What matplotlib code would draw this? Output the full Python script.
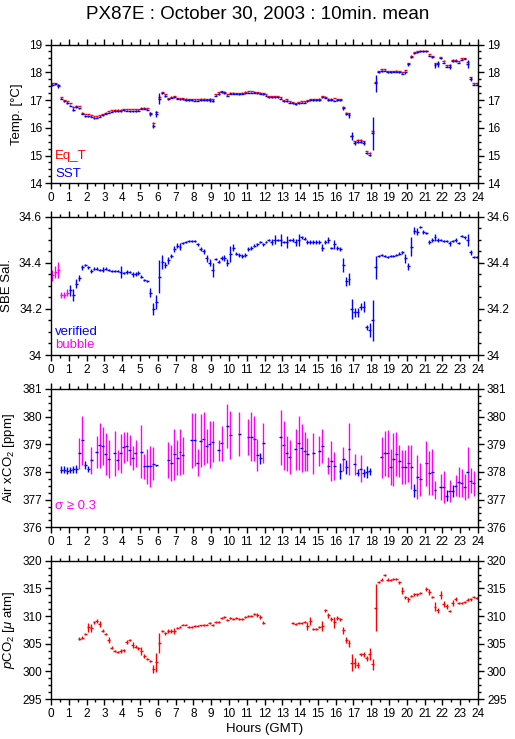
import numpy as np
import matplotlib
matplotlib.use("Agg")
import matplotlib.pyplot as plt
from matplotlib.ticker import MultipleLocator, FuncFormatter

plt.rcParams['font.family'] = ['Liberation Sans', 'DejaVu Sans']
plt.rcParams['mathtext.fontset'] = 'custom'
plt.rcParams['mathtext.rm'] = 'Liberation Sans'
plt.rcParams['mathtext.it'] = 'Liberation Sans:italic'

nan = np.nan
title = "PX87E : October 30, 2003 : 10min. mean"
hours = (np.arange(144) + 0.5) / 6.0   # 10-min bin centres
hour_ticks = list(range(0, 25))

# ---------------- Temperature ----------------
sst = [
    17.55, 17.58, 17.5, 17.05, 16.95, 16.9,
    16.8, 16.65, 16.75, 16.7, 16.5, 16.42,
    16.42, 16.4, 16.35, 16.37, 16.4, 16.45,
    16.5, 16.55, 16.58, 16.6, 16.6, 16.6,
    16.63, 16.62, 16.6, 16.6, 16.6, 16.62,
    16.68, 16.68, 16.65, 16.5, 16.08, 16.5,
    17.05, 17.25, 17.15, 17.02, 17.08, 17.1,
    17.05, 17.02, 17.02, 17.0, 17.0, 17.0,
    16.97, 16.97, 17.0, 17.0, 17.0, 17.0,
    16.98, 17.15, 17.22, 17.28, 17.25, 17.15,
    17.22, 17.22, 17.22, 17.2, 17.22, 17.25,
    17.27, 17.27, 17.27, 17.25, 17.22, 17.2,
    17.15, 17.1, 17.1, 17.1, 17.1, 17.05,
    16.95, 16.97, 16.9, 16.88, 16.85, 16.88,
    16.9, 16.9, 16.95, 17.0, 17.0, 17.0,
    17.0, 17.1, 17.08, 17.0, 17.0, 16.97,
    17.0, 17.0, 16.7, 16.5, 16.45, 15.7,
    15.45, 15.5, 15.5, 15.45, 15.1, 15.02,
    15.8, 17.6, 18.0, 18.05, 18.05, 18.0,
    18.0, 18.02, 18.02, 18.0, 17.95, 18.0,
    18.28, 18.55, 18.68, 18.72, 18.75, 18.75,
    18.75, 18.6, 18.55, 18.25, 18.3, 18.5,
    18.35, 18.2, 18.2, 18.4, 18.4, 18.35,
    18.45, 18.48, 18.3, 17.75, 17.55, 17.55,
]
sst_sd = [
    .03, .03, .08, .03, .03, .03,
    .03, .06, .03, .03, .02, .02,
    .02, .02, .03, .02, .02, .02,
    .02, .02, .02, .02, .02, .02,
    .02, .02, .02, .02, .03, .02,
    .02, .02, .02, .06, .07, .12,
    .2, .04, .03, .03, .02, .02,
    .02, .02, .02, .02, .02, .02,
    .02, .02, .02, .02, .02, .06,
    .06, .02, .03, .03, .03, .02,
    .02, .02, .02, .02, .02, .02,
    .02, .02, .02, .02, .02, .02,
    .02, .02, .02, .02, .02, .02,
    .02, .03, .02, .02, .02, .02,
    .02, .02, .02, .02, .02, .02,
    .02, .02, .02, .02, .02, .02,
    .02, .02, .05, .05, .1, .15,
    .08, .05, .05, .08, .03, .04,
    .6, .3, .03, .03, .02, .02,
    .02, .02, .02, .02, .03, .05,
    .05, .03, .02, .02, .02, .02,
    .02, .02, .02, .1, .1, .02,
    .02, .02, .08, .03, .03, .02,
    .02, .02, .15, .07, .02, .02,
]
eq_t = [
    17.6, 17.62, 17.55, 17.1, 17.0, 16.95,
    16.88, 16.75, 16.8, 16.78, 16.55, 16.48,
    16.48, 16.45, 16.42, 16.43, 16.45, 16.5,
    16.55, 16.6, 16.63, 16.65, 16.65, 16.65,
    16.67, 16.67, 16.66, 16.66, 16.66, 16.66,
    16.73, 16.73, 16.7, 16.55, 16.18, 16.58,
    17.12, 17.28, 17.2, 17.08, 17.12, 17.13,
    17.08, 17.07, 17.06, 17.05, 17.04, 17.03,
    17.02, 17.02, 17.05, 17.05, 17.04, 17.03,
    17.03, 17.2, 17.28, 17.33, 17.3, 17.2,
    17.27, 17.27, 17.26, 17.25, 17.27, 17.3,
    17.32, 17.32, 17.3, 17.29, 17.27, 17.25,
    17.2, 17.15, 17.14, 17.14, 17.13, 17.1,
    17.0, 17.02, 16.95, 16.93, 16.9, 16.92,
    16.95, 16.95, 17.0, 17.03, 17.03, 17.04,
    17.05, 17.13, 17.12, 17.05, 17.05, 17.08,
    17.03, 17.02, 16.75, 16.55, 16.52, 15.72,
    15.52, 15.56, 15.56, 15.52, 15.17, 15.1,
    15.87, 17.65, 18.05, 18.1, 18.12, 18.05,
    18.05, 18.05, 18.06, 18.05, 18.0, 18.08,
    18.33, 18.6, 18.72, 18.76, 18.78, 18.78,
    18.78, 18.65, 18.58, 18.33, 18.35, 18.55,
    18.42, 18.25, 18.25, 18.45, 18.45, 18.4,
    18.5, 18.52, 18.38, 17.82, 17.6, 17.6,
]
eq_t_sd = [
    .01, .01, .02, .01, .01, .01,
    .01, .02, .01, .01, .01, .01,
    .01, .01, .01, .01, .01, .01,
    .01, .01, .01, .01, .01, .01,
    .01, .01, .01, .01, .01, .01,
    .01, .01, .01, .02, .03, .03,
    .03, .01, .01, .01, .01, .01,
    .01, .01, .01, .01, .01, .01,
    .01, .01, .01, .01, .01, .01,
    .01, .01, .01, .01, .01, .01,
    .01, .01, .01, .01, .01, .01,
    .01, .01, .01, .01, .01, .01,
    .01, .01, .01, .01, .01, .01,
    .01, .01, .01, .01, .01, .01,
    .01, .01, .01, .01, .01, .01,
    .01, .01, .01, .01, .01, .01,
    .01, .01, .02, .02, .02, .03,
    .02, .02, .02, .02, .01, .01,
    .03, .03, .01, .01, .01, .01,
    .01, .01, .01, .01, .01, .01,
    .02, .01, .01, .01, .01, .01,
    .01, .01, .01, .02, .02, .01,
    .01, .01, .02, .01, .01, .01,
    .01, .01, .02, .02, .01, .01,
]

# ---------------- Salinity ----------------
sal = [
    34.345, 34.36, 34.37, 34.26, 34.26, 34.27,
    34.28, 34.26, 34.31, 34.335, 34.38, 34.39,
    34.38, 34.365, 34.375, 34.375, 34.37, 34.37,
    34.375, 34.37, 34.365, 34.365, 34.365, 34.36,
    34.355, 34.36, 34.36, 34.35, 34.35, 34.355,
    34.34, 34.325, 34.32, 34.27, 34.2, 34.23,
    34.34, 34.405, 34.39, 34.41, 34.43, 34.46,
    34.475, 34.47, 34.485, 34.49, 34.495, 34.495,
    34.495, 34.48, 34.46, 34.45, 34.42, 34.4,
    34.37, 34.415, 34.405, 34.42, 34.42, 34.4,
    34.44, 34.465, 34.44, 34.435, 34.43, 34.435,
    34.46, 34.465, 34.475, 34.48, 34.49, 34.48,
    34.49, 34.5, 34.49, 34.5, 34.5, 34.5,
    34.49, 34.49, 34.5, 34.5, 34.49, 34.5,
    34.51, 34.505, 34.49, 34.49, 34.49, 34.49,
    34.49, 34.465, 34.49, 34.5, 34.465, 34.48,
    34.465, 34.46, 34.39, 34.32, 34.33, 34.2,
    34.185, 34.185, 34.21, 34.21, 34.12, 34.11,
    34.15, 34.38, 34.43, 34.435, 34.43, 34.425,
    34.43, 34.43, 34.435, 34.44, 34.445, 34.42,
    34.385, 34.47, 34.54, 34.535, 34.555, 34.535,
    34.53, 34.49, 34.5, 34.51, 34.5, 34.5,
    34.495, 34.495, 34.485, 34.495, 34.5, 34.485,
    34.515, 34.51, 34.5, 34.445, 34.425, 34.425,
]
sal_sd = [
    .025, .025, .035, .012, .012, .015,
    .025, .025, .02, .012, .01, .005,
    .005, .01, .005, .008, .005, .012,
    .005, .005, .005, .005, .005, .025,
    .005, .008, .005, .012, .008, .008,
    .008, .005, .005, .02, .025, .03,
    .07, .03, .012, .015, .01, .012,
    .01, .015, .005, .005, .005, .005,
    .005, .005, .01, .01, .015, .015,
    .03, .005, .008, .01, .012, .015,
    .035, .015, .008, .008, .01, .008,
    .01, .008, .008, .005, .005, .005,
    .005, .005, .012, .02, .005, .025,
    .005, .025, .005, .008, .015, .025,
    .008, .005, .008, .008, .008, .008,
    .008, .015, .01, .012, .005, .02,
    .008, .01, .03, .02, .025, .045,
    .02, .02, .015, .025, .01, .03,
    .09, .05, .005, .005, .005, .005,
    .005, .005, .005, .008, .008, .02,
    .015, .04, .015, .015, .005, .008,
    .005, .01, .008, .015, .008, .005,
    .005, .005, .01, .005, .008, .005,
    .005, .005, .025, .01, .005, .005,
]
sal_bubble_bins = [0, 1, 2, 3, 4, 5]

# ---------------- Air xCO2 ----------------
xco2 = [
    nan, nan, nan, 378.08, 378.08, 378.05,
    378.07, 378.1, 378.12, 378.67, 379.14, 378.25,
    378.1, 378.42, nan, 378.71, 378.96, 378.94,
    378.64, 378.46, nan, 378.67, 378.42, 378.67,
    378.9, 378.93, 378.8, 378.5, 378.67, nan,
    378.73, 378.2, 378.2, 378.2, 378.3, 378.25,
    nan, nan, nan, 378.42, 378.32, 378.64,
    378.52, 378.73, 378.6, nan, nan, 379.14,
    379.17, 378.34, 379.13, 379.2, 378.94, 379.0,
    379.1, nan, 378.78, 379.04, nan, 379.65,
    379.33, nan, nan, 379.36, nan, nan,
    379.28, 379.28, 379.2, 378.62, 378.5, 379.04,
    nan, nan, nan, nan, nan, 379.25,
    378.96, 378.67, 378.54, nan, 378.82, 379.04,
    378.86, 378.75, 378.64, nan, 378.67, nan,
    378.75, 378.93, nan, 378.22, 378.39, 378.22,
    nan, 378.04, 378.46, 378.18, 378.83, nan,
    378.28, 377.98, 378.12, 377.95, 378.0, 378.02,
    nan, nan, nan, 378.54, 378.67, 378.67,
    378.18, 378.46, 378.64, 378.39, 378.18, 378.18,
    378.31, 378.18, 377.34, 377.81, 377.73, nan,
    378.31, 377.95, 377.99, 377.34, nan, 377.45,
    377.45, 377.14, 377.31, 377.31, 377.5, 377.63,
    377.6, 377.45, 377.99, 377.69, 377.59, nan,
]
xco2_sd = [
    nan, nan, nan, .12, .12, .12,
    .12, .12, .15, .55, .9, .15,
    .1, .5, nan, .58, .82, .67,
    .76, .68, nan, .8, .36, .7,
    .56, .52, .55, .43, .5, nan,
    .96, .45, .63, .75, .6, .02,
    nan, nan, nan, .65, .66, .93,
    .64, .83, .68, nan, nan, 1.0,
    .96, .5, .95, .96, .63, .84,
    .73, nan, .37, .63, nan, .8,
    .87, nan, nan, .8, nan, nan,
    .65, .88, .82, .57, .2, .72,
    nan, nan, nan, nan, nan, 1.0,
    .9, .62, .6, nan, .74, .97,
    .87, .7, .6, nan, .75, nan,
    .54, .62, nan, .31, .73, .52,
    nan, .28, .43, .26, .93, nan,
    .38, .13, .48, .14, .2, .14,
    nan, nan, nan, .74, .8, .84,
    .64, .96, .8, .57, .6, .63,
    .66, .78, .24, .8, .59, nan,
    .82, .8, .83, .33, nan, .46,
    .58, .2, .4, .23, .38, .55,
    .52, .48, .93, .45, .45, nan,
]
sigma_limit = 0.3

# ---------------- pCO2 ----------------
pco2 = [
    nan, nan, nan, nan, nan, nan,
    nan, nan, nan, 305.9, 306.1, 306.7,
    308.0, 307.9, 308.86, 309.1, 308.6, 307.35,
    306.8, 305.7, 304.3, 303.7, 303.5, 303.7,
    303.8, 305.3, 305.66, 304.76, 304.45, 304.16,
    303.7, 302.77, 302.2, 301.87, 300.42, 301.6,
    305.06, 307.3, 306.9, 307.3, 307.3, 307.3,
    307.9, 308.0, 308.4, 308.4, 308.07, 308.07,
    308.2, 308.25, 308.3, 308.37, 308.43, 308.67,
    308.37, 308.9, 308.86, 309.64, 309.8, 309.34,
    309.64, 309.46, 309.7, 309.46, 309.5, 309.88,
    310.0, 310.0, 310.3, 310.2, 309.8, 308.8,
    nan, nan, nan, nan, nan, nan,
    nan, nan, nan, 308.67, 308.55, 308.73,
    308.8, 308.85, 308.2, 309.1, 307.65, 307.7,
    308.0, 308.2, 311.0, 310.1, 309.46, 308.86,
    309.64, 309.4, 307.4, 305.66, 305.06, 301.57,
    301.45, 301.14, 303.07, 303.07, 302.35, 303.13,
    301.27, 311.5, 316.2, 316.6, 317.35, 316.6,
    316.45, 316.7, 316.7, 316.1, 314.6, 313.4,
    313.0, 313.6, 313.9, 313.9, 314.1, nan,
    314.9, 314.3, 313.5, 311.7, 311.0, 313.85,
    312.2, 311.75, 310.9, 312.35, 313.07, 312.3,
    312.35, 312.6, 312.95, 313.0, 313.37, 313.2,
]
pco2_sd = [
    nan, nan, nan, nan, nan, nan,
    nan, nan, nan, .3, .3, .2,
    .8, .7, .3, .3, .5, .3,
    .2, .5, .3, .2, .2, .3,
    .3, .3, .2, .6, .3, .3,
    .75, .3, .2, .2, .75, 1.8,
    1.8, .2, .3, .3, .3, .5,
    .2, .2, .1, .1, .2, .2,
    .1, .1, .1, .1, .1, .2,
    .2, .2, .2, .2, .2, .2,
    .2, .2, .2, .2, .2, .2,
    .2, .2, .2, .3, .3, .3,
    nan, nan, nan, nan, nan, nan,
    nan, nan, nan, .2, .2, .2,
    .2, .2, .8, .7, .2, .2,
    .2, .9, .2, .4, .3, 1.0,
    .4, .3, .7, .5, .6, 1.5,
    .9, .6, .3, .4, .5, 1.0,
    1.0, 4.2, .2, .3, .2, .3,
    .2, .2, .2, .3, .7, .3,
    .4, .2, .2, .2, .2, nan,
    .4, .5, .2, .8, .4, .7,
    .5, .4, .2, .5, .3, .2,
    .2, .2, .3, .2, .2, .2,
]

# ---------------- drawing ----------------
W, H = 515, 739
fig = plt.figure(figsize=(W / 100, H / 100), dpi=100)

left_px, right_px = 51, 478
panel_px = [(44.5, 183.3), (216.7, 355.0), (389.0, 527.3), (560.7, 699.0)]
axes = []
for top, bot in panel_px:
    ax = fig.add_axes([left_px / W, 1 - bot / H, (right_px - left_px) / W, (bot - top) / H])
    axes.append(ax)

half = 1.0 / 12
RED, BLUE, MAG = '#ff0000', '#0000ff', '#ff00ff'
LW = 1.0
FS = 8.5

hours_a = np.asarray(hours)


def marks(ax, vals, sds, color, mask=None, hcolor=None):
    """10-min mean: horizontal dash across the bin + vertical 1-sigma bar."""
    v = np.asarray(vals, float); s = np.asarray(sds, float)
    m = ~np.isnan(v) if mask is None else (mask & ~np.isnan(v))
    ax.vlines(hours_a[m], v[m] - s[m], v[m] + s[m], color=color, lw=LW)
    ax.hlines(v[m], hours_a[m] - half, hours_a[m] + half,
              color=hcolor or color, lw=LW)


def style(ax, ylim, major, minor, fmt):
    ax.set_xlim(0, 24)
    ax.set_ylim(*ylim)
    ax.set_xticks(hour_ticks)
    ax.xaxis.set_minor_locator(MultipleLocator(0.5))
    ax.yaxis.set_major_locator(MultipleLocator(major))
    ax.yaxis.set_minor_locator(MultipleLocator(minor))
    ax.yaxis.set_major_formatter(FuncFormatter(fmt))
    ax.tick_params(which='both', direction='out', top=True, right=True,
                   labelright=True, labelsize=FS, width=1, color='black', pad=2)
    ax.tick_params(which='major', length=4.5)
    ax.tick_params(which='minor', length=2.5)
    for sp in ax.spines.values():
        sp.set_linewidth(1.0)


g = lambda v, p: '%g' % round(v, 3)

# Panel 1: temperature
ax = axes[0]
marks(ax, eq_t, eq_t_sd, RED)
marks(ax, sst, sst_sd, BLUE)
style(ax, (14, 19), 1, 0.25, g)
ax.set_ylabel('Temp. [°C]', fontsize=FS + 1, labelpad=4)
ax.text(0.01, 0.195, 'Eq_T', color=RED, transform=ax.transAxes, fontsize=FS + 1, va='center')
ax.text(0.01, 0.065, 'SST', color=BLUE, transform=ax.transAxes, fontsize=FS + 1, va='center')

# Panel 2: salinity
ax = axes[1]
is_bub = np.zeros(len(sal), bool)
is_bub[sal_bubble_bins] = True
marks(ax, sal, sal_sd, BLUE, mask=~is_bub)
marks(ax, sal, sal_sd, MAG, mask=is_bub)
style(ax, (34.0, 34.6), 0.2, 0.05, g)
ax.set_ylabel('SBE Sal.', fontsize=FS + 1, labelpad=4)
ax.text(0.01, 0.165, 'verified', color=BLUE, transform=ax.transAxes, fontsize=FS + 1, va='center')
ax.text(0.01, 0.07, 'bubble', color=MAG, transform=ax.transAxes, fontsize=FS + 1, va='center')

# Panel 3: air xCO2
ax = axes[2]
x_a = np.asarray(xco2, float)
xs_a = np.asarray(xco2_sd, float)
ok = ~np.isnan(x_a)
big = ok & (xs_a >= sigma_limit)
small = ok & (xs_a < sigma_limit)
marks(ax, xco2, xco2_sd, MAG, mask=big, hcolor=BLUE)
marks(ax, xco2, xco2_sd, BLUE, mask=small)
style(ax, (376, 381), 1, 0.25, g)
ax.set_ylabel('Air xCO$_2$ [ppm]', fontsize=FS + 1, labelpad=4)
ax.text(0.01, 0.155, 'σ ≥ 0.3', color=MAG, transform=ax.transAxes, fontsize=FS + 1, va='center')

# Panel 4: pCO2
ax = axes[3]
marks(ax, pco2, pco2_sd, RED)
style(ax, (295, 320), 5, 1.25, g)
ax.set_ylabel('$\\it{p}$CO$_2$ [$\\mu$ atm]', fontsize=FS + 1, labelpad=4)
ax.set_xlabel('Hours (GMT)', fontsize=FS + 1, labelpad=2)

fig.text(0.5, 1 - 14 / H, title, ha='center', va='center', fontsize=13.5)

fig.savefig('out.png', dpi=100)
